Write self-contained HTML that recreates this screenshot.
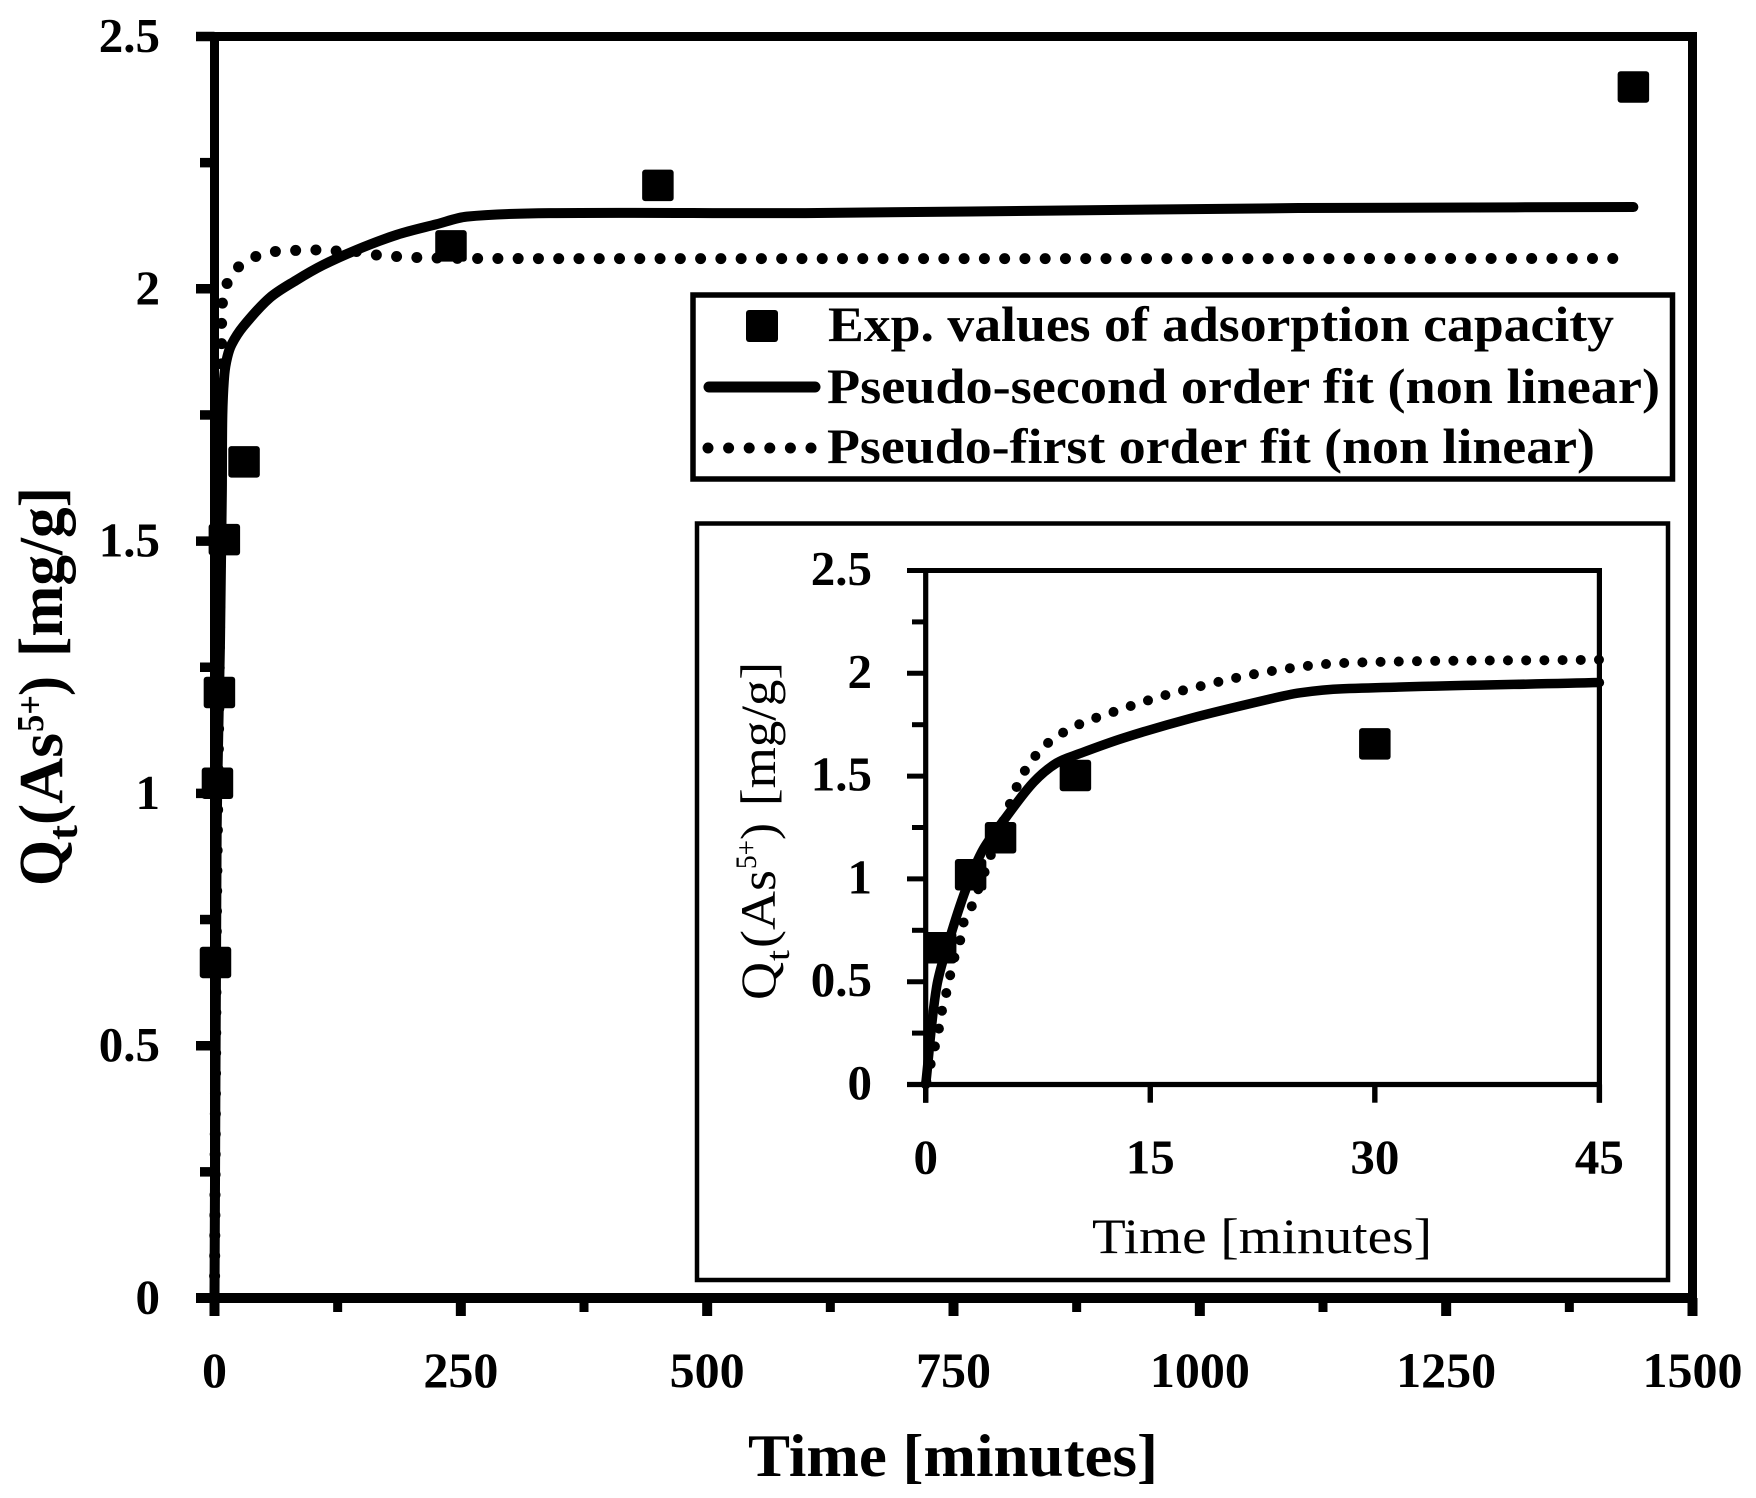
<!DOCTYPE html>
<html lang="en">
<head>
<meta charset="utf-8">
<title>Adsorption kinetics chart</title>
<style>
html,body{margin:0;padding:0;background:#fff;}
svg{display:block;}
text{font-family:"Liberation Serif",serif;fill:#000;}
.b{font-weight:bold;}
</style>
</head>
<body>
<svg id="chart" width="1756" height="1498" viewBox="0 0 1756 1498" xmlns="http://www.w3.org/2000/svg">
  <rect x="0" y="0" width="1756" height="1498" fill="#fff"/>

  <g id="main-marks"></g>

  <text class="b" x="748" y="1476" font-size="60" textLength="410" lengthAdjust="spacingAndGlyphs">Time [minutes]</text>

  <g class="b">
    <text transform="translate(62,886) rotate(-90)" font-size="62" textLength="46" lengthAdjust="spacingAndGlyphs">Q</text>
    <text transform="translate(77,840) rotate(-90)" font-size="42" textLength="15" lengthAdjust="spacingAndGlyphs">t</text>
    <text transform="translate(62,825) rotate(-90)" font-size="62" textLength="92" lengthAdjust="spacingAndGlyphs">(As</text>
    <text transform="translate(43,732) rotate(-90)" font-size="38" textLength="37" lengthAdjust="spacingAndGlyphs">5+</text>
    <text transform="translate(62,696) rotate(-90)" font-size="62" textLength="20" lengthAdjust="spacingAndGlyphs">)</text>
    <text transform="translate(62,657) rotate(-90)" font-size="62" textLength="170" lengthAdjust="spacingAndGlyphs">[mg/g]</text>
  </g>

  <g>
    <rect x="693" y="295" width="979.5" height="184" fill="#fff" stroke="#000" stroke-width="5.5"/>
    <rect x="746" y="310" width="32" height="32" rx="3"/>
    <line x1="709" y1="387" x2="815" y2="387" stroke="#000" stroke-width="11" stroke-linecap="round"/>
    <line x1="708" y1="448" x2="811" y2="448" stroke="#000" stroke-width="11" stroke-linecap="round" stroke-dasharray="0 20.6"/>
    <text class="b" x="828" y="341" font-size="50" textLength="786" lengthAdjust="spacingAndGlyphs">Exp. values of adsorption capacity</text>
    <text class="b" x="827" y="403" font-size="50" textLength="833" lengthAdjust="spacingAndGlyphs">Pseudo-second order fit (non linear)</text>
    <text class="b" x="827" y="463" font-size="50" textLength="768" lengthAdjust="spacingAndGlyphs">Pseudo-first order fit (non linear)</text>
  </g>

  <rect x="697" y="523.5" width="971" height="756.5" fill="#fff" stroke="#000" stroke-width="4.5"/>
  <g id="inset-marks"></g>

  <text x="1092" y="1253" font-size="50" textLength="340" lengthAdjust="spacingAndGlyphs">Time [minutes]</text>

  <g>
    <text transform="translate(775,1000) rotate(-90)" font-size="50" textLength="38" lengthAdjust="spacingAndGlyphs">Q</text>
    <text transform="translate(789,961) rotate(-90)" font-size="34" textLength="11" lengthAdjust="spacingAndGlyphs">t</text>
    <text transform="translate(775,948) rotate(-90)" font-size="50" textLength="78" lengthAdjust="spacingAndGlyphs">(As</text>
    <text transform="translate(756,869) rotate(-90)" font-size="30" textLength="29" lengthAdjust="spacingAndGlyphs">5+</text>
    <text transform="translate(775,840) rotate(-90)" font-size="50" textLength="17" lengthAdjust="spacingAndGlyphs">)</text>
    <text transform="translate(775,806) rotate(-90)" font-size="50" textLength="144" lengthAdjust="spacingAndGlyphs">[mg/g]</text>
  </g>
</svg>

<script>
// ---- experimental data ----
const expTime = [1, 3, 5, 10, 30, 240, 450, 1440];
const expCapacity = [0.665, 1.02, 1.2, 1.503, 1.657, 2.085, 2.205, 2.40];

// ---- main chart fits ----
const mainSecondTime = [0, 1, 2.2, 5.6, 7.5, 8, 10, 13, 17.4, 29, 56, 83, 110, 144, 185, 225.5, 256, 340, 600, 850, 1100, 1440];
const mainSecondQ = [0, 0.45, 0.93, 1.3, 1.6, 1.75, 1.83, 1.865, 1.89, 1.925, 1.982, 2.017, 2.047, 2.077, 2.107, 2.128, 2.143, 2.15, 2.15, 2.155, 2.16, 2.162];
const mainFirstTime = [0, 0.5, 1.2, 2, 4, 5.5, 7, 7.2, 8, 12.4, 24.2, 41.8, 61.7, 82, 102.7, 123, 144, 164, 185, 206, 266, 1419.5];
const mainFirstQ = [0, 0.2, 0.5, 0.765, 1.1, 1.4, 1.73, 1.893, 1.971, 2.009, 2.043, 2.064, 2.074, 2.076, 2.077, 2.075, 2.074, 2.067, 2.064, 2.062, 2.06, 2.06];

// ---- inset fits ----
const insetSecondTime = [0, 0.73, 1.63, 2.73, 3.85, 5.4, 7.2, 8.75, 10.3, 13.2, 17.65, 22.7, 25, 27.9, 45];
const insetSecondQ = [0, 0.475, 0.717, 0.959, 1.145, 1.303, 1.47, 1.564, 1.61, 1.685, 1.78, 1.87, 1.905, 1.925, 1.955];
const insetFirstTime = [0, 0.85, 1.07, 1.35, 1.6, 1.9, 2.3, 2.5, 3.07, 5.6, 6.6, 8.1, 10.2, 12.5, 14.8, 17.2, 22.7, 27.9, 45];
const insetFirstQ = [0, 0.26, 0.353, 0.437, 0.52, 0.613, 0.70, 0.782, 0.866, 1.36, 1.523, 1.657, 1.75, 1.811, 1.867, 1.917, 2.006, 2.05, 2.066];

// ---- tick labels ----
const mainXTicks = [0, 250, 500, 750, 1000, 1250, 1500];
const mainXMinor = [125, 375, 625, 875, 1125, 1375];
const mainYTicks = [0, 0.5, 1, 1.5, 2, 2.5];
const mainYMinor = [0.25, 0.75, 1.25, 1.75, 2.25];
const insetXTicks = [0, 15, 30, 45];
const insetYTicks = [0, 0.5, 1, 1.5, 2, 2.5];
const insetYMinor = [0.25, 0.75, 1.25, 1.75, 2.25];

// ---- axis functions ----
const mainX = t => 214.5 + t * (1692.5 - 214.5) / 1500;
const mainY = q => 1298 - q * (1298 - 36.5) / 2.5;
const insetX = t => 925.7 + t * (1599.4 - 925.7) / 45;
const insetY = q => 1084.5 - q * (1084.5 - 570.5) / 2.5;

const NS = 'http://www.w3.org/2000/svg';

function line(parent, x1, y1, x2, y2, w, name) {
  const el = document.createElementNS(NS, 'line');
  el.setAttribute('x1', x1);
  el.setAttribute('y1', y1);
  el.setAttribute('x2', x2);
  el.setAttribute('y2', y2);
  el.setAttribute('stroke', '#000');
  el.setAttribute('stroke-width', w);
  
  
  parent.appendChild(el);
}

function label(parent, x, y, txt, size, anchor, name) {
  const el = document.createElementNS(NS, 'text');
  el.setAttribute('x', x);
  el.setAttribute('y', y);
  el.setAttribute('font-size', size);
  el.setAttribute('text-anchor', anchor);
  el.setAttribute('class', 'b');
  el.textContent = txt;
  
  
  parent.appendChild(el);
}

// Smooth path through the mapped data points (tangent length limited to a third of each segment).
function smoothPath(ts, qs, fx, fy) {
  const p = ts.map((t, i) => [fx(t), fy(qs[i])]);
  const dir = i => {
    const a = p[Math.max(i - 1, 0)];
    const b = p[Math.min(i + 1, p.length - 1)];
    const dx = b[0] - a[0];
    const dy = b[1] - a[1];
    const n = Math.hypot(dx, dy) || 1;
    return [dx / n, dy / n];
  };
  let d = 'M' + p[0][0].toFixed(2) + ' ' + p[0][1].toFixed(2);
  for (let i = 0; i < p.length - 1; i++) {
    const len = Math.hypot(p[i + 1][0] - p[i][0], p[i + 1][1] - p[i][1]) / 3;
    const d0 = dir(i);
    const d1 = dir(i + 1);
    d += ' C' + (p[i][0] + d0[0] * len).toFixed(2) + ' ' + (p[i][1] + d0[1] * len).toFixed(2) +
         ' ' + (p[i + 1][0] - d1[0] * len).toFixed(2) + ' ' + (p[i + 1][1] - d1[1] * len).toFixed(2) +
         ' ' + p[i + 1][0].toFixed(2) + ' ' + p[i + 1][1].toFixed(2);
  }
  return d;
}

function curve(parent, ts, qs, fx, fy, w, spacing, name) {
  const el = document.createElementNS(NS, 'path');
  el.setAttribute('d', smoothPath(ts, qs, fx, fy));
  el.setAttribute('fill', 'none');
  el.setAttribute('stroke', '#000');
  el.setAttribute('stroke-width', w);
  el.setAttribute('stroke-linecap', 'round');
  el.setAttribute('stroke-linejoin', 'round');
  
  
  parent.appendChild(el);
  if (spacing) {
    el.setAttribute('stroke-dasharray', '0 ' + spacing);
    // Phase the dots so the last one lands just inside the end of the curve.
    el.setAttribute('stroke-dashoffset', spacing - (el.getTotalLength() % spacing) + 0.5);
  }
}

function markers(parent, fx, fy, maxT, size, name) {
  expTime.forEach((t, i) => {
    if (t > maxT) return;
    const el = document.createElementNS(NS, 'rect');
    el.setAttribute('x', fx(t) - size / 2);
    el.setAttribute('y', fy(expCapacity[i]) - size / 2);
    el.setAttribute('width', size);
    el.setAttribute('height', size);
    el.setAttribute('rx', 3);
    
    
    parent.appendChild(el);
  });
}

// ---- main plot ----
const mainG = document.getElementById('main-marks');
line(mainG, 196, 36.5, 1697, 36.5, 9, 'main-top-border');
line(mainG, 196, 1298, 1697, 1298, 10, 'main-x-axis');
line(mainG, mainX(0), 32, mainX(0), 1316, 9, 'main-y-axis');
line(mainG, mainX(1500), 32, mainX(1500), 1316, 9, 'main-right-border');
mainXTicks.forEach(v => {
  line(mainG, mainX(v), 1298, mainX(v), 1316, 10, 'main-x-major-tick');
  label(mainG, mainX(v), 1387, String(v), 50, 'middle', 'main-x-tick-label');
});
mainXMinor.forEach(v => {
  line(mainG, mainX(v), 1298, mainX(v), 1312, 9, 'main-x-minor-tick');
});
mainYTicks.forEach(v => {
  line(mainG, 196, mainY(v), mainX(0), mainY(v), 9.5, 'main-y-major-tick');
  label(mainG, 160, mainY(v) + 15.5, String(v), 49, 'end', 'main-y-tick-label');
});
mainYMinor.forEach(v => {
  line(mainG, 200, mainY(v), mainX(0), mainY(v), 9.5, 'main-y-minor-tick');
});
curve(mainG, mainFirstTime, mainFirstQ, mainX, mainY, 11, 20.27, 'main-pseudo-first-order-curve');
curve(mainG, mainSecondTime, mainSecondQ, mainX, mainY, 10, 0, 'main-pseudo-second-order-curve');
markers(mainG, mainX, mainY, 1500, 31.5, 'main-experimental-point');

// ---- inset plot ----
const insetG = document.getElementById('inset-marks');
line(insetG, 907, 570.5, 1602, 570.5, 5, 'inset-top-border');
line(insetG, 907, 1084.5, 1602, 1084.5, 5.3, 'inset-x-axis');
line(insetG, insetX(0), 568, insetX(0), 1102.7, 5.2, 'inset-y-axis');
line(insetG, insetX(45), 568, insetX(45), 1102.7, 5.2, 'inset-right-border');
insetXTicks.forEach(v => {
  line(insetG, insetX(v), 1084.5, insetX(v), 1102.7, 5.4, 'inset-x-tick');
  label(insetG, insetX(v), 1173.3, String(v), 49, 'middle', 'inset-x-tick-label');
});
insetYTicks.forEach(v => {
  line(insetG, 907, insetY(v), insetX(0), insetY(v), 5, 'inset-y-major-tick');
  label(insetG, 872, insetY(v) + 14.5, String(v), 49, 'end', 'inset-y-tick-label');
});
insetYMinor.forEach(v => {
  line(insetG, 912, insetY(v), insetX(0), insetY(v), 5, 'inset-y-minor-tick');
});
curve(insetG, insetFirstTime, insetFirstQ, insetX, insetY, 10, 18.2, 'inset-pseudo-first-order-curve');
curve(insetG, insetSecondTime, insetSecondQ, insetX, insetY, 9.5, 0, 'inset-pseudo-second-order-curve');
markers(insetG, insetX, insetY, 45, 31.5, 'inset-experimental-point');
</script>
</body>
</html>
